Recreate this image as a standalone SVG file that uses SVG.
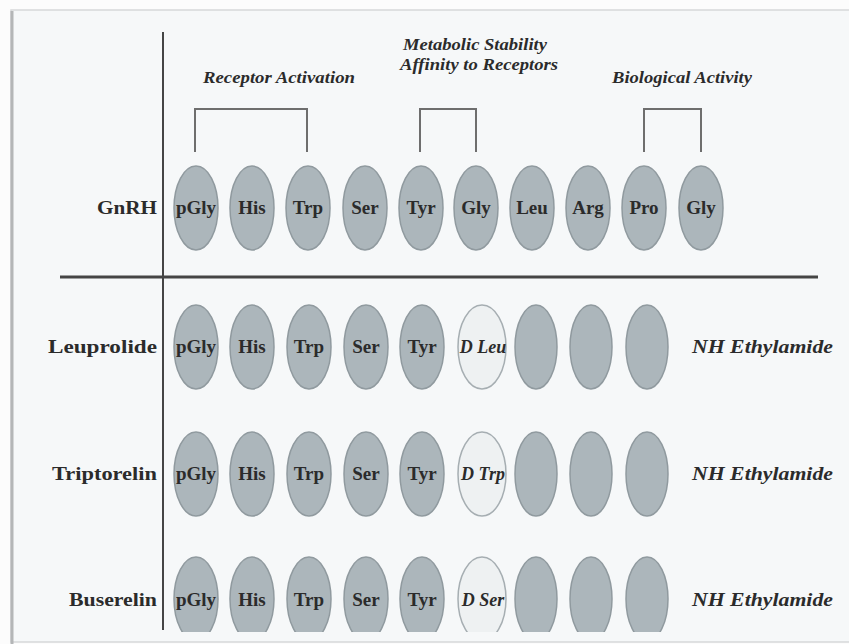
<svg xmlns="http://www.w3.org/2000/svg" width="849" height="644" viewBox="0 0 849 644">
<style>
.bg{fill:#fcfcfc}
.panel{fill:#f6f8f9;stroke:#d6d8d9;stroke-width:1.5}
.res{fill:#acb6bb;stroke:#909a9f;stroke-width:1.5}
.dres{fill:#eef1f2;stroke:#a6aeb2;stroke-width:1.5}
.aa{font-family:"Liberation Serif","Times New Roman",serif;font-weight:bold;font-size:19px;fill:#2b2b2b;text-anchor:middle}
.da{font-family:"Liberation Serif","Times New Roman",serif;font-weight:bold;font-style:italic;font-size:18px;fill:#2b2b2b;text-anchor:middle}
.lbl{font-family:"Liberation Serif","Times New Roman",serif;font-weight:bold;font-size:19px;fill:#2b2b2b;text-anchor:end}
.hdr{font-family:"Liberation Serif","Times New Roman",serif;font-weight:bold;font-style:italic;font-size:17px;fill:#2b2b2b}
.nh{font-family:"Liberation Serif","Times New Roman",serif;font-weight:bold;font-style:italic;font-size:19px;fill:#2b2b2b}
.br{fill:none;stroke:#6e6e6e;stroke-width:2}
.rule{stroke:#454545}
</style>
<defs>
<clipPath id="cp"><rect x="0" y="0" width="849" height="632"/></clipPath>
</defs>
<rect class="bg" x="0" y="0" width="849" height="644"/>
<rect class="panel" x="11" y="10" width="850" height="632"/>
<line x1="12" y1="11" x2="12" y2="644" stroke="#b4b6b7" stroke-width="3"/>

<g id="axes">
<line class="rule" x1="163" y1="32" x2="163" y2="630" stroke-width="2"/>
<line class="rule" x1="60" y1="277" x2="818" y2="277" stroke-width="3"/>
</g>

<g id="headers">
<text class="hdr" x="203" y="83" textLength="152" lengthAdjust="spacingAndGlyphs">Receptor Activation</text>
<text class="hdr" x="403" y="50" textLength="144" lengthAdjust="spacingAndGlyphs">Metabolic Stability</text>
<text class="hdr" x="400" y="70" textLength="158" lengthAdjust="spacingAndGlyphs">Affinity to Receptors</text>
<text class="hdr" x="612" y="83" textLength="140" lengthAdjust="spacingAndGlyphs">Biological Activity</text>
</g>

<g id="connectors">
<path class="br" d="M195,152 V109 H307 V152"/>
<path class="br" d="M420,152 V109 H476 V152"/>
<path class="br" d="M644,152 V109 H701 V152"/>
</g>

<g id="row-gnrh">
<text class="lbl" x="157" y="214" textLength="60" lengthAdjust="spacingAndGlyphs">GnRH</text>
<g id="gnrh-1"><ellipse class="res" cx="196" cy="208" rx="22" ry="42"/><text class="aa" x="196" y="214">pGly</text></g>
<g id="gnrh-2"><ellipse class="res" cx="252" cy="208" rx="22" ry="42"/><text class="aa" x="252" y="214">His</text></g>
<g id="gnrh-3"><ellipse class="res" cx="308" cy="208" rx="22" ry="42"/><text class="aa" x="308" y="214">Trp</text></g>
<g id="gnrh-4"><ellipse class="res" cx="365" cy="208" rx="22" ry="42"/><text class="aa" x="365" y="214">Ser</text></g>
<g id="gnrh-5"><ellipse class="res" cx="421" cy="208" rx="22" ry="42"/><text class="aa" x="421" y="214">Tyr</text></g>
<g id="gnrh-6"><ellipse class="res" cx="476" cy="208" rx="22" ry="42"/><text class="aa" x="476" y="214">Gly</text></g>
<g id="gnrh-7"><ellipse class="res" cx="532" cy="208" rx="22" ry="42"/><text class="aa" x="532" y="214">Leu</text></g>
<g id="gnrh-8"><ellipse class="res" cx="588" cy="208" rx="22" ry="42"/><text class="aa" x="588" y="214">Arg</text></g>
<g id="gnrh-9"><ellipse class="res" cx="644" cy="208" rx="22" ry="42"/><text class="aa" x="644" y="214">Pro</text></g>
<g id="gnrh-10"><ellipse class="res" cx="701" cy="208" rx="22" ry="42"/><text class="aa" x="701" y="214">Gly</text></g>
</g>

<g id="row-leuprolide">
<text class="lbl" x="157" y="353" textLength="109" lengthAdjust="spacingAndGlyphs">Leuprolide</text>
<g id="leu-1"><ellipse class="res" cx="196" cy="347" rx="22" ry="42"/><text class="aa" x="196" y="353">pGly</text></g>
<g id="leu-2"><ellipse class="res" cx="252" cy="347" rx="22" ry="42"/><text class="aa" x="252" y="353">His</text></g>
<g id="leu-3"><ellipse class="res" cx="309" cy="347" rx="22" ry="42"/><text class="aa" x="309" y="353">Trp</text></g>
<g id="leu-4"><ellipse class="res" cx="366" cy="347" rx="22" ry="42"/><text class="aa" x="366" y="353">Ser</text></g>
<g id="leu-5"><ellipse class="res" cx="422" cy="347" rx="22" ry="42"/><text class="aa" x="422" y="353">Tyr</text></g>
<g id="leu-6"><ellipse class="dres" cx="482" cy="347" rx="24" ry="42"/><text class="da" x="483" y="353">D Leu</text></g>
<g id="leu-7"><ellipse class="res" cx="536" cy="347" rx="21" ry="42"/></g>
<g id="leu-8"><ellipse class="res" cx="591" cy="347" rx="21" ry="42"/></g>
<g id="leu-9"><ellipse class="res" cx="647" cy="347" rx="21" ry="42"/></g>
<text class="nh" x="692" y="353" textLength="141" lengthAdjust="spacingAndGlyphs">NH Ethylamide</text>
</g>

<g id="row-triptorelin">
<text class="lbl" x="157" y="480" textLength="105" lengthAdjust="spacingAndGlyphs">Triptorelin</text>
<g id="trip-1"><ellipse class="res" cx="196" cy="474" rx="22" ry="42"/><text class="aa" x="196" y="480">pGly</text></g>
<g id="trip-2"><ellipse class="res" cx="252" cy="474" rx="22" ry="42"/><text class="aa" x="252" y="480">His</text></g>
<g id="trip-3"><ellipse class="res" cx="309" cy="474" rx="22" ry="42"/><text class="aa" x="309" y="480">Trp</text></g>
<g id="trip-4"><ellipse class="res" cx="366" cy="474" rx="22" ry="42"/><text class="aa" x="366" y="480">Ser</text></g>
<g id="trip-5"><ellipse class="res" cx="422" cy="474" rx="22" ry="42"/><text class="aa" x="422" y="480">Tyr</text></g>
<g id="trip-6"><ellipse class="dres" cx="482" cy="474" rx="24" ry="42"/><text class="da" x="483" y="480">D Trp</text></g>
<g id="trip-7"><ellipse class="res" cx="536" cy="474" rx="21" ry="42"/></g>
<g id="trip-8"><ellipse class="res" cx="591" cy="474" rx="21" ry="42"/></g>
<g id="trip-9"><ellipse class="res" cx="647" cy="474" rx="21" ry="42"/></g>
<text class="nh" x="692" y="480" textLength="141" lengthAdjust="spacingAndGlyphs">NH Ethylamide</text>
</g>

<g id="row-buserelin" clip-path="url(#cp)">
<text class="lbl" x="157" y="606" textLength="88" lengthAdjust="spacingAndGlyphs">Buserelin</text>
<g id="bus-1"><ellipse class="res" cx="196" cy="599" rx="22" ry="42"/><text class="aa" x="196" y="606">pGly</text></g>
<g id="bus-2"><ellipse class="res" cx="252" cy="599" rx="22" ry="42"/><text class="aa" x="252" y="606">His</text></g>
<g id="bus-3"><ellipse class="res" cx="309" cy="599" rx="22" ry="42"/><text class="aa" x="309" y="606">Trp</text></g>
<g id="bus-4"><ellipse class="res" cx="366" cy="599" rx="22" ry="42"/><text class="aa" x="366" y="606">Ser</text></g>
<g id="bus-5"><ellipse class="res" cx="422" cy="599" rx="22" ry="42"/><text class="aa" x="422" y="606">Tyr</text></g>
<g id="bus-6"><ellipse class="dres" cx="482" cy="599" rx="24" ry="42"/><text class="da" x="483" y="606">D Ser</text></g>
<g id="bus-7"><ellipse class="res" cx="536" cy="599" rx="21" ry="42"/></g>
<g id="bus-8"><ellipse class="res" cx="591" cy="599" rx="21" ry="42"/></g>
<g id="bus-9"><ellipse class="res" cx="647" cy="599" rx="21" ry="42"/></g>
<text class="nh" x="692" y="606" textLength="141" lengthAdjust="spacingAndGlyphs">NH Ethylamide</text>
</g>
</svg>
